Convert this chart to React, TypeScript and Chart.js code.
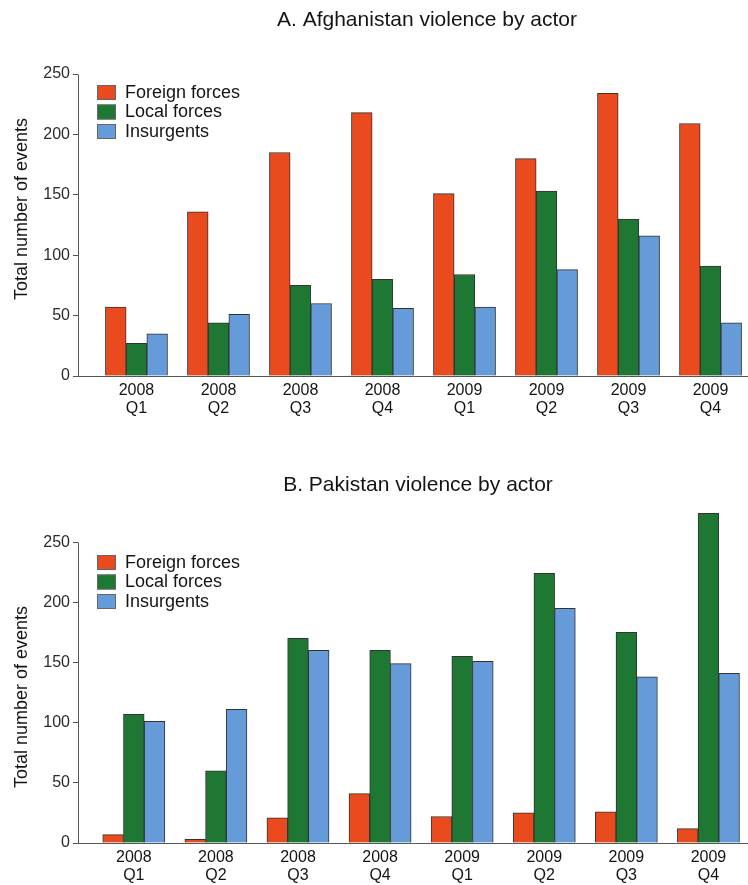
import React, { useEffect, useRef } from "react";
import { Chart, registerables } from "chart.js";

Chart.register(...registerables);

const categories: string[][] = [
  ["2008", "Q1"], ["2008", "Q2"], ["2008", "Q3"], ["2008", "Q4"],
  ["2009", "Q1"], ["2009", "Q2"], ["2009", "Q3"], ["2009", "Q4"],
];
const seriesNames = ["Foreign forces", "Local forces", "Insurgents"];
const seriesColors = ["#E94B1E", "#1E7833", "#659BD8"];

const afgForeign = [57, 136, 185, 218, 151, 180, 234, 209];
const afgLocal = [27, 44, 75, 80, 84, 153, 130, 91];
const afgInsurgents = [35, 51, 60, 56, 57, 88, 116, 44];

const pakForeign = [7, 3, 21, 41, 22, 25, 26, 12];
const pakLocal = [107, 60, 170, 160, 155, 224, 175, 274];
const pakInsurgents = [101, 111, 160, 149, 151, 195, 138, 141];

const yTickStep = 50;
const yAxisTitle = "Total number of events";
const titleA = "A. Afghanistan violence by actor";
const titleB = "B. Pakistan violence by actor";

const FONT = '"Liberation Sans", Arial, Helvetica, sans-serif';
Chart.defaults.font.family = FONT;

const TEXT = "#141414";

const decorPlugin = {
  id: "decor",
  afterDraw(chart: any, _args: any, opts: any) {
    const ctx = chart.ctx;
    const area = chart.chartArea;
    const y = chart.scales.y;
    ctx.save();
    // y axis line from 0 to the top tick
    const ticks = y.ticks;
    const topVal = ticks[ticks.length - 1].value;
    const xl = Math.round(area.left) + 0.5;
    ctx.strokeStyle = "#555";
    ctx.lineWidth = 1;
    ctx.beginPath();
    ctx.moveTo(xl, Math.round(y.getPixelForValue(0)) + 0.5);
    ctx.lineTo(xl, Math.round(y.getPixelForValue(topVal)) + 0.5);
    ctx.stroke();

    // chart title
    ctx.fillStyle = TEXT;
    ctx.font = `21px ${FONT}`;
    ctx.textAlign = "center";
    ctx.textBaseline = "middle";
    ctx.fillText(opts.title, opts.titleX, opts.titleY);

    // legend
    ctx.font = `18px ${FONT}`;
    ctx.textAlign = "left";
    chart.data.datasets.forEach((ds: any, i: number) => {
      const sx = area.left + 19;
      const sy = opts.legendTop + i * 19.5;
      ctx.fillStyle = ds.backgroundColor;
      ctx.fillRect(sx, sy, 19, 15);
      ctx.strokeStyle = "#666";
      ctx.lineWidth = 1;
      ctx.strokeRect(sx + 0.5, sy + 0.5, 18, 14);
      ctx.fillStyle = TEXT;
      ctx.fillText(ds.label, area.left + 47, sy + 8);
    });

    // y axis title
    ctx.translate(opts.yTitleX, opts.yTitleY);
    ctx.rotate(-Math.PI / 2);
    ctx.font = `18px ${FONT}`;
    ctx.textAlign = "center";
    ctx.fillStyle = TEXT;
    ctx.fillText(opts.yTitle, 0, 0);
    ctx.restore();
  },
};

type Cfg = {
  values: number[][];
  yMax: number;
  xMin: number;
  xMax: number;
  padTop: number;
  xAxisHeight: number;
  title: string;
  titleX: number;
  titleY: number;
  legendTop: number;
  yTitleX: number;
  yTitleY: number;
  width: number;
  height: number;
};

function BarPanel(props: Cfg) {
  const ref = useRef<HTMLCanvasElement | null>(null);
  useEffect(() => {
    if (!ref.current) return;
    const datasets = props.values.map((vals, s) => ({
      label: seriesNames[s],
      data: vals.map((v, i) => ({ x: i, y: v })),
      backgroundColor: seriesColors[s],
      borderColor: "#333",
      borderWidth: 1,
      barThickness: 20.7,
    }));
    const chart = new Chart(ref.current, {
      type: "bar",
      data: { datasets },
      plugins: [decorPlugin],
      options: {
        animation: false,
        responsive: false,
        devicePixelRatio: 1,
        layout: { padding: { top: props.padTop, left: 0, right: 0, bottom: 0 } },
        plugins: {
          legend: { display: false },
          tooltip: { enabled: false },
          title: { display: false },
          decor: {
            title: props.title,
            titleX: props.titleX,
            titleY: props.titleY,
            legendTop: props.legendTop,
            yTitle: yAxisTitle,
            yTitleX: props.yTitleX,
            yTitleY: props.yTitleY,
          },
        } as any,
        scales: {
          x: {
            type: "linear",
            min: props.xMin,
            max: props.xMax,
            offset: false,
            grid: { display: false, offset: false },
            border: { display: true, color: "#555", width: 1 },
            ticks: {
              stepSize: 1,
              includeBounds: false,
              autoSkip: false,
              maxRotation: 0,
              padding: -3,
              color: TEXT,
              font: { size: 16, lineHeight: 1.15 },
              callback: (v: any) => {
                const n = Number(v);
                return Number.isInteger(n) && categories[n] ? categories[n] : "";
              },
            },
            afterFit: (s: any) => {
              s.height = props.xAxisHeight;
            },
          },
          y: {
            type: "linear",
            min: 0,
            max: props.yMax,
            grid: {
              display: true,
              drawOnChartArea: false,
              drawTicks: true,
              tickLength: 5,
              color: "#555",
              lineWidth: 1,
            },
            border: { display: false },
            ticks: {
              stepSize: yTickStep,
              includeBounds: false,
              padding: 3,
              color: "#2a2a2a",
              font: { size: 16 },
            },
            afterFit: (s: any) => {
              s.width = 78;
            },
          },
        },
      } as any,
    });
    return () => chart.destroy();
  }, []);
  return (
    <canvas
      ref={ref}
      width={props.width}
      height={props.height}
      style={{ display: "block", width: props.width, height: props.height }}
    />
  );
}

export default function App() {
  return (
    <div
      style={{
        position: "absolute",
        left: 0,
        top: 0,
        width: 748,
        height: 885,
        background: "#fff",
      }}
    >
      <BarPanel
        values={[afgForeign, afgLocal, afgInsurgents]}
        yMax={250}
        xMin={-0.713}
        xMax={7.457}
        padTop={74}
        xAxisHeight={64}
        title={titleA}
        titleX={427}
        titleY={20}
        legendTop={85}
        yTitleX={22}
        yTitleY={209}
        width={748}
        height={440}
      />
      <BarPanel
        values={[pakForeign, pakLocal, pakInsurgents]}
        yMax={280}
        xMin={-0.68}
        xMax={7.482}
        padTop={66}
        xAxisHeight={42}
        title={titleB}
        titleX={418}
        titleY={45}
        legendTop={115}
        yTitleX={22}
        yTitleY={257}
        width={748}
        height={445}
      />
    </div>
  );
}
